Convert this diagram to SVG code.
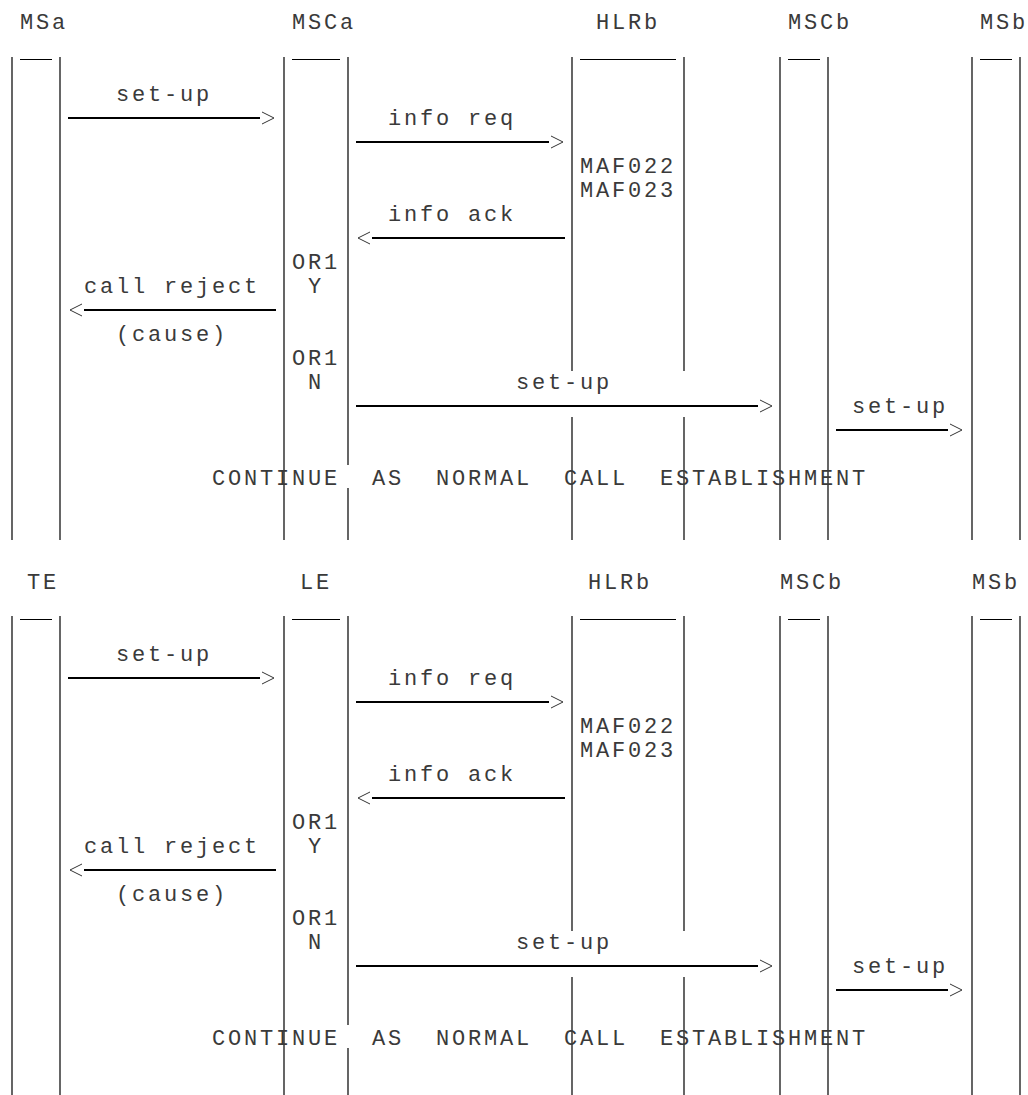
<svg xmlns="http://www.w3.org/2000/svg" width="1028" height="1095" viewBox="0 0 1028 1095">
<style>
text{font-family:"Liberation Mono","DejaVu Sans Mono",monospace;font-size:22px;letter-spacing:2.8px;fill:#3a3a3a;white-space:pre}
.life{stroke:#000;stroke-width:1.2;fill:none}
.bar{stroke:#000;stroke-width:1;fill:none}
.msg{stroke:#000;stroke-width:2;fill:none;marker-end:url(#chev)}
</style>
<defs>
<marker id="chev" markerUnits="userSpaceOnUse" viewBox="0 -7 16 14" refX="0" refY="0" markerWidth="16" markerHeight="14" orient="auto" overflow="visible">
<path d="M2,-6 L14,0 L2,6" fill="none" stroke="#333" stroke-width="1"/>
</marker>
</defs>

<!-- ===== Diagram 1 ===== -->
<g id="d1-MSa">
<text x="20" y="29">MSa</text>
<path class="bar" d="M20 59.5H52"/>
<path class="life" d="M12 57V540M60 57V540"/>
</g>
<g id="d1-MSCa">
<text x="292" y="29">MSCa</text>
<path class="bar" d="M292 59.5H340"/>
<path class="life" d="M284 57V540M348 57V465M348 488V540"/>
<text x="292" y="269">OR1</text>
<text x="308" y="293">Y</text>
<text x="292" y="365">OR1</text>
<text x="308" y="389">N</text>
</g>
<g id="d1-HLRb">
<text x="596" y="29">HLRb</text>
<path class="bar" d="M580 59.5H676"/>
<path class="life" d="M572 57V371M572 417V540M684 57V371M684 417V540"/>
<text x="580" y="173">MAF022</text>
<text x="580" y="197">MAF023</text>
</g>
<g id="d1-MSCb">
<text x="788" y="29">MSCb</text>
<path class="bar" d="M788 59.5H820"/>
<path class="life" d="M780 57V540M828 57V540"/>
</g>
<g id="d1-MSb">
<text x="980" y="29">MSb</text>
<path class="bar" d="M980 59.5H1012"/>
<path class="life" d="M972 57V540M1020 57V540"/>
</g>
<g id="d1-connectors">
<path class="msg" d="M68 118H260"/>
<text x="116" y="101">set-up</text>
<path class="msg" d="M356 142H549"/>
<text x="388" y="125">info req</text>
<path class="msg" d="M565 238H372"/>
<text x="388" y="221">info ack</text>
<path class="msg" d="M276 310H84"/>
<text x="84" y="293">call reject</text>
<text x="116" y="341">(cause)</text>
<path class="msg" d="M356 406H758"/>
<text x="516" y="389">set-up</text>
<path class="msg" d="M836 430H948"/>
<text x="852" y="413">set-up</text>
</g>
<text id="d1-note" x="212" y="485" xml:space="preserve">CONTINUE  AS  NORMAL  CALL  ESTABLISHMENT</text>

<!-- ===== Diagram 2 ===== -->
<g id="d2-TE">
<text x="27" y="589">TE</text>
<path class="bar" d="M20 619.5H52"/>
<path class="life" d="M12 616V1095M60 616V1095"/>
</g>
<g id="d2-LE">
<text x="300" y="589">LE</text>
<path class="bar" d="M292 619.5H340"/>
<path class="life" d="M284 616V1095M348 616V1025M348 1048V1095"/>
<text x="292" y="829">OR1</text>
<text x="308" y="853">Y</text>
<text x="292" y="925">OR1</text>
<text x="308" y="949">N</text>
</g>
<g id="d2-HLRb">
<text x="588" y="589">HLRb</text>
<path class="bar" d="M580 619.5H676"/>
<path class="life" d="M572 616V931M572 977V1095M684 616V931M684 977V1095"/>
<text x="580" y="733">MAF022</text>
<text x="580" y="757">MAF023</text>
</g>
<g id="d2-MSCb">
<text x="780" y="589">MSCb</text>
<path class="bar" d="M788 619.5H820"/>
<path class="life" d="M780 616V1095M828 616V1095"/>
</g>
<g id="d2-MSb">
<text x="972" y="589">MSb</text>
<path class="bar" d="M980 619.5H1012"/>
<path class="life" d="M972 616V1095M1020 616V1095"/>
</g>
<g id="d2-connectors">
<path class="msg" d="M68 678H260"/>
<text x="116" y="661">set-up</text>
<path class="msg" d="M356 702H549"/>
<text x="388" y="685">info req</text>
<path class="msg" d="M565 798H372"/>
<text x="388" y="781">info ack</text>
<path class="msg" d="M276 870H84"/>
<text x="84" y="853">call reject</text>
<text x="116" y="901">(cause)</text>
<path class="msg" d="M356 966H758"/>
<text x="516" y="949">set-up</text>
<path class="msg" d="M836 990H948"/>
<text x="852" y="973">set-up</text>
</g>
<text id="d2-note" x="212" y="1045" xml:space="preserve">CONTINUE  AS  NORMAL  CALL  ESTABLISHMENT</text>
</svg>
